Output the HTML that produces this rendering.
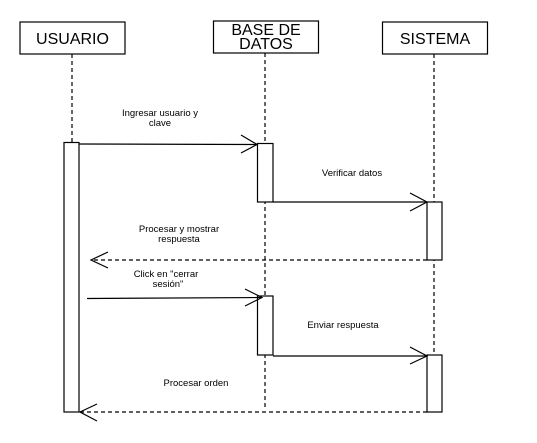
<!DOCTYPE html>
<html><head><meta charset="utf-8"><style>
html,body{margin:0;padding:0;background:#fff;width:537px;height:443px;overflow:hidden}
svg{display:block}
text{font-family:"Liberation Sans",sans-serif;fill:#000}
</style></head><body>
<svg width="537" height="443" viewBox="0 0 537 443" xmlns="http://www.w3.org/2000/svg">
<g stroke="#000" stroke-width="1.2" fill="none">
<line x1="72" y1="54" x2="72" y2="142" stroke-dasharray="4,3"/>
<line x1="265" y1="53" x2="265" y2="408" stroke-dasharray="4,3"/>
<line x1="434" y1="54" x2="434" y2="355" stroke-dasharray="4,3"/>
<rect x="20" y="22" width="105" height="32" fill="#fff"/>
<rect x="213.5" y="21" width="105" height="32" fill="#fff"/>
<rect x="382.5" y="22" width="105" height="32" fill="#fff"/>
<rect x="64" y="142.5" width="15" height="269.5" fill="#fff"/>
<rect x="257.5" y="143.5" width="15.5" height="58.5" fill="#fff"/>
<rect x="427" y="202" width="15" height="58" fill="#fff"/>
<rect x="257.5" y="296" width="15.5" height="59" fill="#fff"/>
<rect x="427" y="355" width="15" height="57" fill="#fff"/>
<line x1="79" y1="144" x2="257" y2="144.5"/>
<polyline points="241,135 257,144.5 241,153"/>
<line x1="273" y1="202" x2="427" y2="202"/>
<polyline points="410,193 427,202 410,211"/>
<line x1="427" y1="260" x2="91" y2="260" stroke-dasharray="4,3"/>
<polyline points="108,252 91,260 108,268"/>
<line x1="87" y1="298.5" x2="262" y2="297.5"/>
<polyline points="245,289 262,297.5 245,306"/>
<line x1="273" y1="356" x2="427" y2="356"/>
<polyline points="410,347 427,356 410,364"/>
<line x1="427" y1="412" x2="80" y2="412" stroke-dasharray="4,3"/>
<polyline points="97,404 80,412 97,421"/>
</g>
<g font-size="16" text-anchor="middle">
<text x="72.5" y="44">USUARIO</text>
<text x="266" y="35">BASE DE</text>
<text x="266" y="49">DATOS</text>
<text x="435" y="44">SISTEMA</text>
</g>
<g font-size="9.5" text-anchor="middle">
<text x="160" y="116">Ingresar usuario y</text>
<text x="160" y="126">clave</text>
<text x="352" y="176">Verificar datos</text>
<text x="179" y="232">Procesar y mostrar</text>
<text x="179" y="242">respuesta</text>
<text x="166" y="277">Click en "cerrar</text>
<text x="168" y="287">sesión"</text>
<text x="343" y="328">Enviar respuesta</text>
<text x="196" y="386">Procesar orden</text>
</g>
</svg>
</body></html>
